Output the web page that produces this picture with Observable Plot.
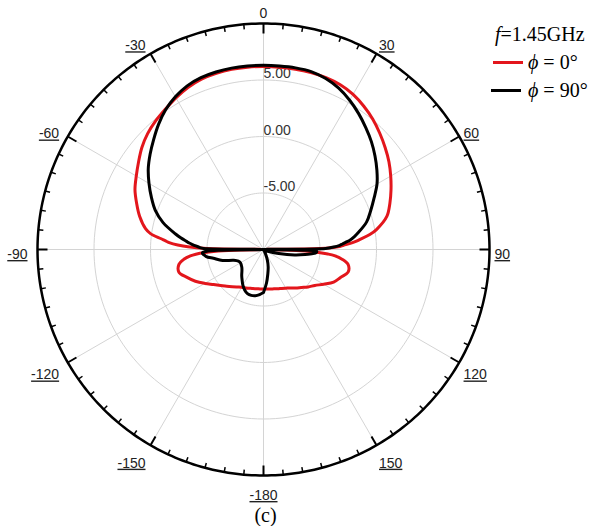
<!DOCTYPE html>
<html><head><meta charset="utf-8">
<script src="https://cdn.jsdelivr.net/npm/d3@7"></script>
<script src="https://cdn.jsdelivr.net/npm/@observablehq/plot@0.6"></script>
<style>
body{margin:0;background:#fff;}
#wrap{position:relative;width:602px;height:526px;overflow:hidden;}
.leg{position:absolute;font-family:"Liberation Serif","Times New Roman",serif;font-size:20px;color:#000;white-space:nowrap;line-height:20px;}
.sw{position:absolute;height:3px;}
</style></head><body><div id="wrap"></div>
<script>
// angles (deg, 0 = top, clockwise positive)
const angles = [-180,-175,-170,-165,-160,-155,-150,-145,-140,-135,-130,-125,-120,-115,-110,-105,-100,-97,-95,-94,-93,-92,-91,-90,
  -89,-88,-87,-86,-85,-84,-82,-80,-75,-70,-65,-60,-55,-50,-45,-40,-35,-30,-25,-20,-15,-10,-5,
  0,
  5,10,15,20,25,30,35,40,45,50,55,60,65,70,75,80,
  82,84,85,86,87,88,89,
  90,91,92,93,94,95,97,100,105,110,115,120,125,130,135,140,145,150,155,160,165,170,175,180];
// gain (dB), phi = 0 deg (red)
const gainPhi0 = [-6.5,-6.5,-6.48,-6.42,-6.35,-6.25,-6.15,-5.95,-5.7,-5.4,-5.05,-4.6,-4.0,-3.35,-2.8,-2.25,-2.4,-2.9,-3.5,-4.0,-4.8,-6.0,-8.0,-10,
  -5.0,-3.3,-2.4,-1.7,-1.3,-0.9,0.1,0.6,1.35,1.95,2.55,3.0,3.5,4.05,4.5,4.85,5.15,5.5,5.82,6.05,6.15,6.2,6.2,
  6.2,
  6.2,6.2,6.2,6.18,6.08,5.85,5.48,5.05,4.55,4.05,3.55,3.0,2.45,1.9,1.3,0.15,
  -0.5,-1.4,-1.8,-2.3,-2.9,-3.4,-5.0,
  -10,-8.0,-6.3,-5.1,-4.3,-3.7,-3.0,-2.4,-2.25,-2.75,-3.15,-3.85,-4.45,-4.85,-5.25,-5.55,-5.85,-6.05,-6.2,-6.3,-6.4,-6.45,-6.5,-6.5];
// gain (dB), phi = 90 deg (black)
const gainPhi90 = [-6.2,-6.0,-5.85,-5.8,-5.85,-6.05,-6.35,-6.7,-7.0,-7.3,-7.5,-7.6,-7.65,-7.55,-7.2,-6.25,-5.5,-4.9,-4.7,-4.6,-4.6,-4.9,-6.0,-10,
  -4.7,-4.3,-4.0,-3.7,-3.4,-3.15,-2.6,-2.1,-0.8,0.2,0.95,1.7,2.45,3.1,3.75,4.45,5.1,5.6,5.98,6.18,6.26,6.3,6.3,
  6.3,
  6.3,6.32,6.3,6.1,5.75,5.25,4.68,4.08,3.5,2.88,2.25,1.6,0.8,0.1,-0.55,-1.5,
  -1.9,-2.35,-2.7,-3.0,-3.3,-3.8,-4.5,
  -10,-6.5,-5.3,-5.3,-5.4,-5.7,-6.3,-7.2,-8.6,-9.4,-10,-10,-10,-10,-10,-10,-10,-10,-9.6,-9.0,-8.4,-7.8,-7.0,-6.2];

const ringLevels = [-5, 0, 5];
const ringLabels = ["-5.00", "0.00", "5.00"];
const angleTicks = [0, 30, 60, 90, 120, 150, 180, -150, -120, -90, -60, -30];
const angleTickLabels = ["0", "30", "60", "90", "120", "150", "-180", "-150", "-120", "-90", "-60", "-30"];
const phiValues = ["0°", "90°"];
const seriesColors = ["#e3161c", "#000000"];
const freqLabel = "1.45GHz";
const captionText = "(c)";
const rMin = -10, rMax = 10;

const R = rMax - rMin;
const U = R / 226; // data units per pixel
const rad = Math.PI / 180;
const px = (a, r) => r * Math.sin(a * rad);
const py = (a, r) => r * Math.cos(a * rad);

const curve = (gains) => angles.map((a, i) => ({a, r: Math.max(0, gains[i] - rMin)}));
const redPts = curve(gainPhi0);
const blkPts = curve(gainPhi90);
const ringPts = ringLevels.flatMap(l => d3.range(0, 361, 2).map(a => ({l, a, r: l - rMin})));
const outerPts = d3.range(0, 361, 1).map(a => ({a, r: R}));
const spokes = d3.range(0, 360, 30);
const ticks = d3.range(0, 360, 5).map(a => ({a, major: a % 30 === 0}));
const labels = angleTicks.map((a, i) => ({a, t: angleTickLabels[i]}));
const labY = d => py(d.a, R + 5 * U) - (5 - 10 * Math.cos(d.a * rad)) * U;

const sans = "'Liberation Sans', Arial, sans-serif";
const chart = Plot.plot({
  width: 602, height: 526, margin: 0,
  x: {type: "linear", domain: [-R, R], range: [37, 489], axis: null},
  y: {type: "linear", domain: [-R, R], range: [475, 23], axis: null},
  style: {background: "#fff", overflow: "visible"},
  marks: [
    Plot.link(spokes, {x1: 0, y1: 0, x2: a => px(a, R), y2: a => py(a, R), stroke: "#d4d4d4", strokeWidth: 1}),
    Plot.line(ringPts, {x: d => px(d.a, d.r), y: d => py(d.a, d.r), z: "l", stroke: "#d4d4d4", strokeWidth: 1}),
    Plot.text(ringLevels, {x: 0, y: l => l - rMin, text: (l, i) => ringLabels[i], textAnchor: "start", dx: 0, dy: -6, fontSize: 14, fill: "#333", fontFamily: sans}),
    Plot.line(redPts, {x: d => px(d.a, d.r), y: d => py(d.a, d.r), stroke: seriesColors[0], strokeWidth: 3, curve: "catmull-rom"}),
    Plot.line(blkPts, {x: d => px(d.a, d.r), y: d => py(d.a, d.r), stroke: seriesColors[1], strokeWidth: 3, curve: "catmull-rom"}),
    Plot.line(outerPts, {x: d => px(d.a, d.r), y: d => py(d.a, d.r), stroke: "#000", strokeWidth: 2.5}),
    Plot.link(ticks, {x1: d => px(d.a, R), y1: d => py(d.a, R),
      x2: d => px(d.a, R - (d.major ? 10 : 5) * U), y2: d => py(d.a, R - (d.major ? 10 : 5) * U),
      stroke: "#000", strokeWidth: d => d.major ? 2 : 1.5}),
    Plot.text(labels.filter(d => d.a > 0 && d.a < 180), {x: d => px(d.a, R + 5 * U), y: labY, text: "t", textAnchor: "start", fontSize: 14, fill: "#222", fontFamily: sans}),
    Plot.text(labels.filter(d => d.a < 0 && d.a > -180), {x: d => px(d.a, R + 10 * U), y: labY, text: "t", textAnchor: "end", fontSize: 14, fill: "#222", fontFamily: sans}),
    Plot.text(labels.filter(d => d.a === 0 || Math.abs(d.a) === 180), {x: 0, y: labY, text: "t", textAnchor: "middle", fontSize: 14, fill: "#222", fontFamily: sans}),
    Plot.text([captionText], {x: 2 * U, y: -266 * U, text: d => d, textAnchor: "middle", fontSize: 20, fill: "#000", fontFamily: "'Liberation Serif', 'Times New Roman', serif"})
  ]
});
chart.querySelectorAll("text").forEach(t => {
  const s = t.textContent;
  if (s !== "0" && angleTickLabels.includes(s)) { t.setAttribute("text-decoration", "underline"); t.style.textDecoration = "underline"; }
});
const wrap = document.getElementById("wrap");
wrap.appendChild(chart);

function addDiv(cls, style, html) {
  const d = document.createElement("div");
  d.className = cls; d.setAttribute("style", style); if (html) d.innerHTML = html;
  wrap.appendChild(d);
}
addDiv("leg", "left:495px;top:24px;", "<i>f</i>=" + freqLabel);
const legTops = [52, 80];
const swLeft = [493, 491];
phiValues.forEach((v, i) => {
  addDiv("sw", `left:${swLeft[i]}px;top:${legTops[i] + 9}px;width:30px;background:${seriesColors[i]};`);
  addDiv("leg", `left:528px;top:${legTops[i]}px;`, "<i>ϕ</i> = " + v);
});
</script></body></html>
